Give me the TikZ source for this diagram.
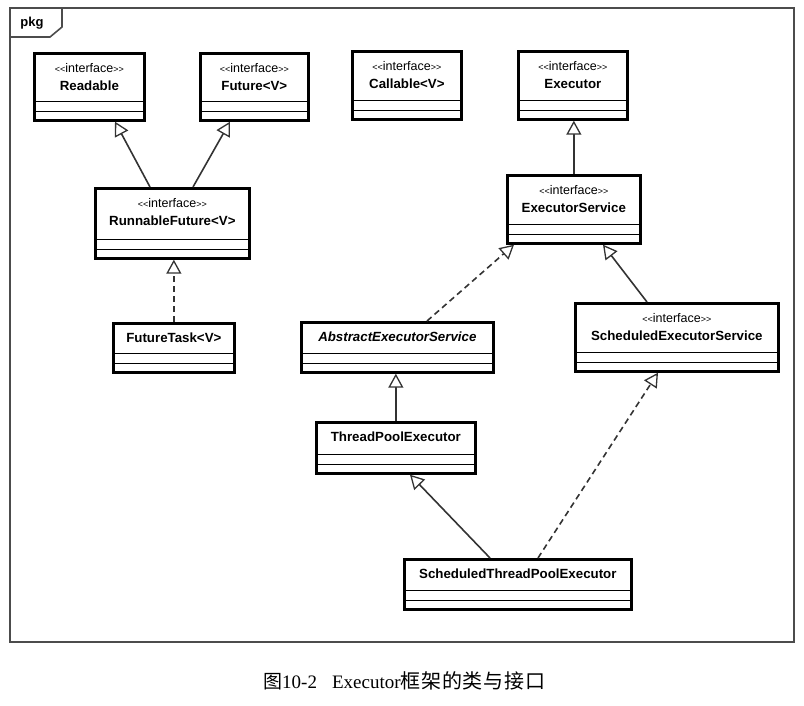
\documentclass[tikz,border=0pt]{standalone}
\usepackage{fontspec}
\setmainfont{Liberation Serif}
\newfontfamily\umlfont{Liberation Sans}
\newfontfamily\cjk{Noto Sans CJK SC}
\usetikzlibrary{arrows.meta}

\newcommand\umlbox[5]{%
  \node[classbox, anchor=north west, minimum width=#4pt, minimum height=#5pt] (#1) at (#2,#3) {};
  \draw[comp] ([yshift=20pt]#1.south west) -- ([yshift=20pt]#1.south east);
  \draw[comp] ([yshift=10.5pt]#1.south west) -- ([yshift=10.5pt]#1.south east);
}
\newcommand\ster[1]{\node[stereo] (#1-st) at ([yshift=-16pt]#1.north) {{\fontsize{9}{10}\selectfont<<}interface{\fontsize{9}{10}\selectfont>>}};}
\newcommand\iname[2]{\node[cname] (#1-nm) at ([yshift=-34pt]#1.north) {#2};}
\newcommand\cname[2]{\node[cname] (#1-nm) at ([yshift=-15.5pt]#1.north) {#2};}

\begin{document}
\begin{tikzpicture}[x=1pt,y=-1pt,
  classbox/.style={draw=black, line width=2.7pt, inner sep=0pt, fill=white},
  comp/.style={draw=black, line width=1.4pt},
  stereo/.style={inner sep=0pt, font=\umlfont\fontsize{12.5}{14}\selectfont},
  cname/.style={inner sep=0pt, font=\umlfont\bfseries\fontsize{13.3}{15}\selectfont},
  gen/.style={draw=black!80, line width=1.6pt, -{Triangle[fill=white, length=14pt, width=15pt, line width=1.3pt]}},
  real/.style={gen, dash pattern=on 6pt off 4pt},
  frame/.style={draw=black!70, line width=1.6pt}]
\useasboundingbox (0,0) rectangle (804,705);

% package frame
\draw[frame] (10,8) rectangle (794,642);
\draw[frame] (10,37) -- (50,37) -- (62,27) -- (62,8);
\node[inner sep=0pt, font=\umlfont\bfseries\fontsize{13}{14}\selectfont] (pkg) at (32,23) {pkg};

% classes
\umlbox{rd}{33}{52}{110}{67}   \ster{rd}  \iname{rd}{Readable}
\umlbox{fu}{199}{52}{108}{67}  \ster{fu}  \iname{fu}{Future<V>}
\umlbox{ca}{351}{50}{109}{68}  \ster{ca}  \iname{ca}{Callable<V>}
\umlbox{ex}{517}{50}{109}{68}  \ster{ex}  \iname{ex}{Executor}
\umlbox{rf}{94}{187}{154}{70}  \ster{rf}  \iname{rf}{RunnableFuture<V>}
\umlbox{es}{506}{174}{133}{68} \ster{es}  \iname{es}{ExecutorService}
\umlbox{ft}{112}{322}{121}{49} \cname{ft}{FutureTask<V>}
\umlbox{aes}{300}{321}{192}{50} \cname{aes}{\itshape AbstractExecutorService}
\umlbox{ses}{574}{302}{203}{68} \ster{ses} \iname{ses}{ScheduledExecutorService}
\umlbox{tpe}{315}{421}{159}{51} \cname{tpe}{ThreadPoolExecutor}
\umlbox{stpe}{403}{558}{227}{50} \cname{stpe}{ScheduledThreadPoolExecutor}

% connectors
\draw[gen] ([xshift=56pt]rf.north west) -- ([xshift=82pt]rd.south west);
\draw[gen] ([xshift=99pt]rf.north west) -- ([xshift=31pt]fu.south west);
\draw[real] (ft.north) -- (ft.north |- rf.south);
\draw[gen] (es.north) -- (es.north |- ex.south);
\draw[real] ([xshift=127pt]aes.north west) -- ([xshift=8pt]es.south west);
\draw[gen] ([xshift=73pt]ses.north west) -- ([xshift=97pt]es.south west);
\draw[gen] (tpe.north) -- (tpe.north |- aes.south);
\draw[gen] ([xshift=87pt]stpe.north west) -- ([xshift=95pt]tpe.south west);
\draw[real] ([xshift=135pt]stpe.north west) -- ([xshift=84pt]ses.south west);

% caption
\node[anchor=base west, inner sep=0pt, font=\fontsize{19}{22}\selectfont] (cap) at (263,688)
  {{\cjk 图}10-2\hspace{15pt}Executor{\cjk\fontsize{20}{22}\selectfont\addfontfeature{LetterSpace=3.7}框架的类与接口}};
\end{tikzpicture}
\end{document}
